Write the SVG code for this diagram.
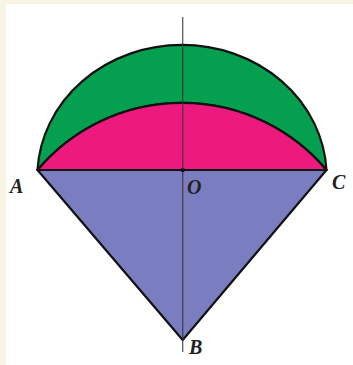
<svg xmlns="http://www.w3.org/2000/svg" width="353" height="365" viewBox="0 0 353 365">
<style>
.shape{stroke:#111;stroke-width:2.2;stroke-linejoin:round}
.lbl{font-family:"Liberation Serif","Times New Roman",serif;font-style:italic;font-weight:bold;font-size:20px;fill:#222}
</style>
<rect x="0" y="0" width="353" height="365" fill="#f8f4e3"/>
<rect x="6" y="4" width="347" height="361" fill="#ffffff"/>
<g id="green-region">
<path class="shape" d="M37.5,170 A144.7,132 0 0 1 326.5,170 A189,189 0 0 0 37.5,170 Z" fill="#04a050"/>
</g>
<g id="pink-region">
<path class="shape" d="M37.5,170 A189,189 0 0 1 326.5,170 Z" fill="#ec1a7d"/>
</g>
<g id="triangle-ABC">
<path class="shape" d="M37.5,170 L326.5,170 L182.7,340 Z" fill="#7a7ec0"/>
</g>
<g id="connectors">
<line x1="182.7" y1="17" x2="182.7" y2="352" stroke="#333" stroke-width="1.3" stroke-opacity="0.8"/>
<circle cx="182.7" cy="170" r="2.2" fill="#111"/>
</g>
<g id="label-A"><text class="lbl" x="10" y="193">A</text></g>
<g id="label-O"><text class="lbl" x="187" y="194">O</text></g>
<g id="label-C"><text class="lbl" x="332" y="189">C</text></g>
<g id="label-B"><text class="lbl" x="189" y="354">B</text></g>
</svg>
